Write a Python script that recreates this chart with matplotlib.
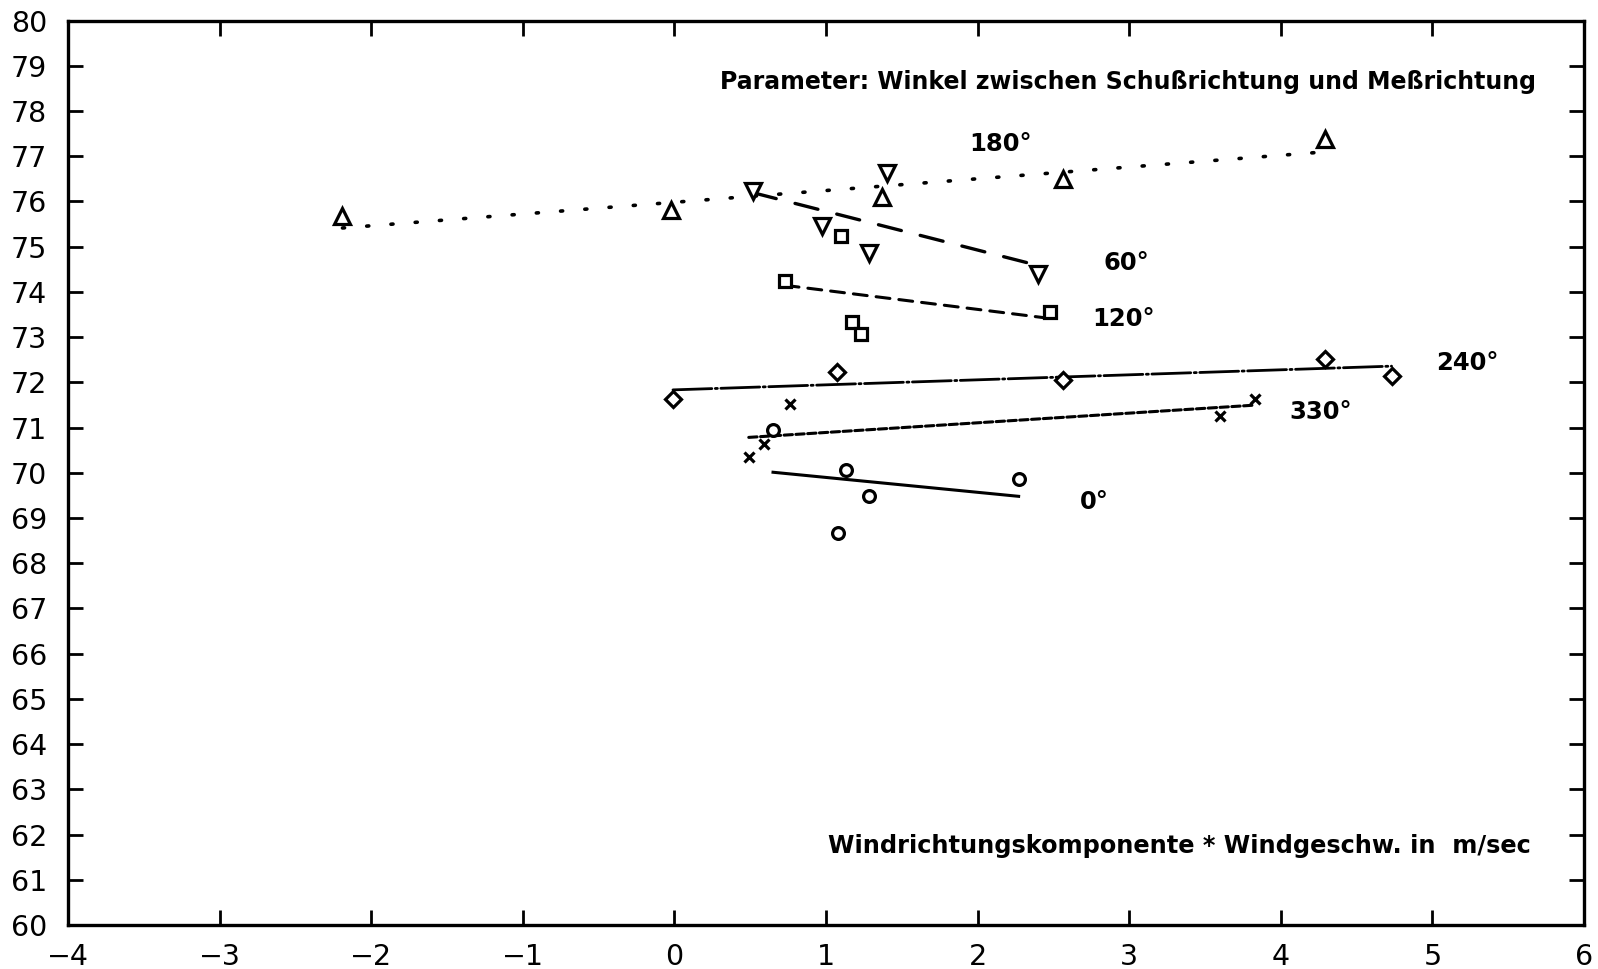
import numpy as np
import matplotlib
matplotlib.use("Agg")
import matplotlib.pyplot as plt

plt.rcParams['font.family'] = ['DejaVu Sans']
plt.rcParams['lines.scale_dashes'] = False
plt.rcParams['axes.unicode_minus'] = True

# Messwerte je Winkel zwischen Schussrichtung und Messrichtung
x_180 = [-2.19, -0.02, 1.37, 2.56, 4.29]
y_180 = [75.67, 75.81, 76.10, 76.50, 77.39]

x_60 = [0.52, 0.97, 1.28, 1.40, 2.40]
y_60 = [76.24, 75.45, 74.86, 76.62, 74.39]

x_120 = [0.73, 1.10, 1.17, 1.23, 2.48]
y_120 = [74.24, 75.24, 73.34, 73.07, 73.55]

x_240 = [-0.01, 1.07, 2.56, 4.29, 4.73]
y_240 = [71.63, 72.23, 72.05, 72.52, 72.14]

x_330 = [0.49, 0.59, 0.76, 3.60, 3.83]
y_330 = [70.34, 70.63, 71.52, 71.25, 71.63]

x_0 = [0.65, 1.13, 1.28, 1.08, 2.27]
y_0 = [70.94, 70.07, 69.48, 68.67, 69.86]

x_ticks = [-4, -3, -2, -1, 0, 1, 2, 3, 4, 5, 6]
y_ticks = list(range(60, 81))

series = [
    # name, x, y, marker, marker size, dash pattern, line width, label position
    ("180°", x_180, y_180, "^", 11, (0, (1.5, 16)), 2.6, (2.15, 77.27)),
    ("60°", x_60, y_60, "v", 11, (0, (17, 14)), 2.4, (2.98, 74.64)),
    ("120°", x_120, y_120, "s", 8.5, (0, (10, 6.5)), 2.2, (2.96, 73.40)),
    ("240°", x_240, y_240, "D", 8.5, (0, (28, 2.5, 1.5, 2.5)), 2.0, (5.23, 72.43)),
    ("330°", x_330, y_330, "x", 7.5, (0, (6, 2.5)), 2.2, (4.26, 71.35)),
    ("0°", x_0, y_0, "o", 8.5, "-", 2.2, (2.77, 69.36)),
]

fig = plt.figure(figsize=(15.98, 9.69), dpi=100)
ax = fig.add_axes([0.0426, 0.0454, 0.9487, 0.9334])

for name, xs, ys, marker, ms, ls, lw, pos in series:
    xs = np.array(xs)
    ys = np.array(ys)
    ax.plot(xs, ys, linestyle="none", marker=marker, ms=ms,
            mfc="white", mec="black", mew=2.3, zorder=3)
    # Ausgleichsgerade ueber den Bereich der Messwerte
    slope, icpt = np.polyfit(xs, ys, 1)
    xf = np.array([xs.min(), xs.max()])
    ax.plot(xf, slope * xf + icpt, color="black", linestyle=ls, lw=lw,
            dash_capstyle="round", zorder=2)
    ax.text(pos[0], pos[1], name, fontsize=17.5, fontweight="bold",
            ha="center", va="center")

ax.text(5.68, 78.65, "Parameter: Winkel zwischen Schußrichtung und Meßrichtung",
        fontsize=17, fontweight="bold", ha="right", va="center")
ax.text(5.65, 61.74, "Windrichtungskomponente * Windgeschw. in  m/sec",
        fontsize=17.3, fontweight="bold", ha="right", va="center")

ax.set_xlim(-4, 6)
ax.set_ylim(60, 80)
ax.set_xticks(x_ticks)
ax.set_yticks(y_ticks)
ax.set_xticklabels([f"{t:d}".replace("-", "\u2212") for t in x_ticks])
ax.tick_params(axis="both", direction="in", length=11, width=2.0,
               labelsize=20.5, top=True, right=True)
ax.tick_params(axis="x", pad=13)
ax.tick_params(axis="y", pad=15)
for sp in ax.spines.values():
    sp.set_linewidth(2.4)

fig.savefig("out.png", dpi=100)
